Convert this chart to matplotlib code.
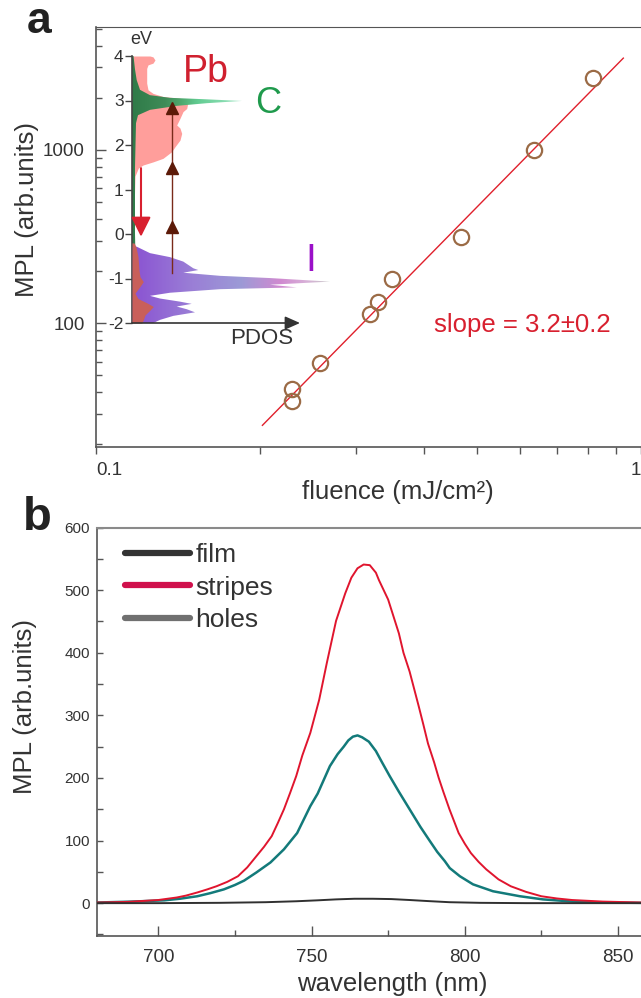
import numpy as np
import matplotlib
matplotlib.use("Agg")
import matplotlib.pyplot as plt
from matplotlib.colors import LinearSegmentedColormap
from matplotlib.patches import PathPatch
from matplotlib.lines import Line2D
from matplotlib.ticker import LogLocator, NullFormatter, MultipleLocator

plt.rcParams["font.family"] = ["Liberation Sans", "DejaVu Sans"]

W, H = 641, 998

# ---- panel a: MPL vs fluence ----
fluence = [0.815, 0.635, 0.467, 0.349, 0.329, 0.318, 0.258, 0.229, 0.229]
mpl_int = [2600, 1000, 315, 180, 133, 113, 59, 41.8, 35.6]
slope = 3.2
fit_amp = 4300
fit_range = [0.202, 0.928]

# ---- inset: projected DOS (energy in eV, PDOS in arb. units) ----
pb_e = [4.0, 3.98, 3.91, 3.84, 3.80, 3.72, 3.39, 3.24, 3.16, 3.09, 3.05, 2.97,
        2.82, 2.75, 2.60, 2.45, 2.38, 2.26, 2.11, 1.96, 1.85, 1.70, 1.62, 1.55,
        1.48, 1.30, 0.50, -0.20]
pb_w = [18, 21, 23, 21, 16, 14.7, 14.7, 16, 21, 31, 48, 56,
        54.7, 51, 48, 44.7, 48, 49.7, 48, 43, 39.7, 31, 21, 11,
        6.3, 3, 2, 2]
pb_low_e = [-0.20, -0.29, -0.51, -0.81, -0.96, -1.07, -1.18, -1.33, -1.45,
            -1.56, -1.63, -1.71, -1.82, -1.93, -2.0]
pb_low_w = [2, 4, 6, 7, 8, 11.3, 8, 3, 6, 16, 21.3, 18, 13, 11.3, 9.7]
c_e = [4.0, 3.7, 3.46, 3.24, 3.12, 3.06, 3.03, 2.99, 2.94, 2.88, 2.79, 2.67,
       2.49, 1.5, 0.0, -1.0, -1.07, -1.2, -1.6, -2.0]
c_w = [1.5, 3, 4.7, 8, 18, 38, 71, 110, 75, 45, 18, 6,
       4, 3, 3, 4, 5, 3, 2, 1]
i_e = [-0.285, -0.43, -0.52, -0.62, -0.77, -0.81, -0.87, -0.94, -0.99, -1.07,
       -1.14, -1.20, -1.24, -1.32, -1.39, -1.45, -1.52, -1.57, -1.63, -1.69,
       -1.76, -1.84, -1.93, -2.0]
i_w = [4.7, 18, 38, 51.3, 61.3, 66.3, 51.3, 88, 138, 198,
       138, 164.7, 88, 38, 18, 28, 48, 59.7, 44.7, 54.7,
       63, 41.3, 28, 21.3]
absorb_e = [0.16, 1.48, 2.84]
absorb_from = -0.87
emit_from, emit_to = 1.48, -0.06

# ---- panel b: MPL spectra ----
stripes_nm = [680, 690, 700, 706, 709, 712.7, 716, 719, 722.5, 726, 729, 732,
              734.5, 737, 739, 741, 743, 745, 747, 749.6, 752.5, 755, 758, 761,
              763, 765, 767, 769, 771, 772, 775, 778.5, 780, 782, 783.5, 785,
              786.5, 788, 790, 791.5, 793, 795, 798, 800, 802, 804.5, 807, 811,
              815, 820, 825, 830, 835, 845, 857.5]
stripes = [1, 2, 5, 9, 12, 17, 22, 27, 34, 43, 57, 75,
           90, 107, 128, 150, 176, 203, 236, 272, 325, 384, 451, 495,
           520, 535, 541, 540, 528, 516, 485, 431, 400, 370, 342, 314,
           285, 255, 225, 200, 178, 150, 112, 95, 80, 66, 54, 38,
           27, 18, 11, 7.5, 5, 2.5, 1]
holes_nm = [680, 691, 702, 707, 712.7, 717, 721.4, 725, 728, 732, 736.6, 741,
            745.3, 749.6, 752, 754, 756, 758.5, 760.5, 762, 763.5, 765, 766.5,
            768.7, 771, 773, 775.5, 778.5, 781, 783, 785.5, 788.5, 791, 793.5,
            795.1, 798.4, 802.7, 809.2, 818, 825.5, 835.3, 845, 857.5]
holes = [1, 2.4, 4.5, 7, 11, 16, 22, 29, 36, 49, 65, 86,
         112, 155, 175, 197, 219, 238, 250, 260, 266, 268, 265,
         258, 243, 225, 203, 178, 158, 142, 122, 100, 82, 67,
         56, 43, 30, 19, 11, 6, 2.5, 1, 0.5]
film_nm = [680, 700, 720, 735, 745, 752, 758, 764, 770, 776, 782, 788, 795,
           805, 820, 857.5]
film = [0, 0, 0.5, 1.5, 3, 4.5, 6, 7, 7, 6.5, 5, 3.3, 1.5, 0.5, 0, 0]
legend_labels = ["film", "stripes", "holes"]
legend_colors = ["#333333", "#d0104c", "#707070"]

TXT = "#333333"


def px_rect(x0, y0, x1, y1):
    return [x0 / W, 1 - y1 / H, (x1 - x0) / W, (y1 - y0) / H]


def shaded(ax, e, w, colors, z):
    e = np.asarray(e, float)
    w = np.asarray(w, float)
    poly = ax.fill_betweenx(e, 0, w, facecolor="none", edgecolor="none")
    patch = PathPatch(poly.get_paths()[0], transform=ax.transData,
                      facecolor="none", edgecolor="none")
    ax.add_patch(patch)
    cmap = LinearSegmentedColormap.from_list("pdos", colors)
    im = ax.imshow(np.linspace(0, 1, 256)[None, :], cmap=cmap, aspect="auto",
                   extent=[0, w.max(), e.min(), e.max()], origin="lower",
                   interpolation="bilinear", zorder=z)
    im.set_clip_path(patch)


fig = plt.figure(figsize=(W / 100, H / 100), dpi=100)

# ================= panel a =================
ax = fig.add_axes(px_rect(96, 26.7, 641, 447))
ax.set_xscale("log")
ax.set_yscale("log")
ax.plot(fluence, mpl_int, "o", ms=11, mfc="none", mec="#9b6b46", mew=1.6, zorder=3)
f = np.array(fit_range)
ax.plot(f, fit_amp * f ** slope, color="#e0202c", lw=1, zorder=2)
ax.set_xlim(0.1, 0.967)
ax.set_ylim(19.3, 5140)

ax.set_yticks([100, 1000], ["100", "1000"])
ax.yaxis.set_minor_locator(LogLocator(base=10, subs=np.arange(2, 10)))
ax.yaxis.set_minor_formatter(NullFormatter())
ax.set_xticks([0.1, 1], ["0.1", "1"])
ax.xaxis.set_minor_locator(LogLocator(base=10, subs=np.arange(2, 10)))
ax.xaxis.set_minor_formatter(NullFormatter())
xlabs = ax.get_xticklabels()
xlabs[0].set_horizontalalignment("left")
xlabs[1].set_horizontalalignment("right")
ax.tick_params(axis="y", which="major", direction="in", length=7, width=1,
               color="#555555", labelsize=13.5, labelcolor=TXT, pad=8)
ax.tick_params(axis="y", which="minor", direction="in", length=4, width=1,
               color="#555555")
ax.tick_params(axis="x", which="both", direction="out", length=5, width=1,
               color="#555555", labelsize=13.5, labelcolor=TXT, pad=6)
ax.spines["right"].set_visible(False)
ax.spines["top"].set_linestyle((0, (1, 1)))
ax.spines["top"].set_color("#555555")
for s in ["left", "bottom"]:
    ax.spines[s].set_color("#555555")
    ax.spines[s].set_linewidth(1.2)

ax.set_ylabel("MPL (arb.units)", fontsize=18.5, color=TXT)
ax.yaxis.set_label_coords(-0.105, 0.566)
ax.set_xlabel("fluence (mJ/cm²)", fontsize=18.5, color=TXT)
ax.xaxis.set_label_coords(0.553, -0.078)
ax.text(0.62, 0.29, f"slope = {slope:.1f}±0.2", transform=ax.transAxes,
        fontsize=18.5, color="#d8202f", ha="left", va="center")

# ---- inset PDOS ----
axi = fig.add_axes(px_rect(132, 56, 342, 323))
axi.patch.set_alpha(0)
axi.fill_betweenx(pb_e, 0, pb_w, color="#ff9e9b", lw=0, zorder=1)
shaded(axi, c_e, c_w, [(0, "#2f7a48"), (0.3, "#3f8c58"), (0.45, "#4fa86e"),
                       (0.6, "#62cc92"), (1, "#a0e6c4")], 2)
shaded(axi, i_e, i_w, [(0, "#8a52d2"), (0.3, "#9a7ed6"), (0.55, "#9c9ad6"),
                       (0.75, "#d08ad0"), (0.88, "#d8b0d8"), (1, "#c8c8c8")], 2)
axi.fill_betweenx(pb_low_e, 0, pb_low_w, color="#c95f5a", lw=0, zorder=3)

axi.plot([40.3, 40.3], [absorb_from, absorb_e[-1]], color="#7a2a1a", lw=1, zorder=4)
axi.plot([40.3] * len(absorb_e), absorb_e, "^", ms=8, color="#5c1a08", zorder=5)
axi.annotate("", xy=(9, emit_to), xytext=(9, emit_from),
             arrowprops=dict(arrowstyle="-|>,head_length=0.6,head_width=0.3",
                             mutation_scale=20, color="#d8202f", lw=1.5,
                             shrinkA=0, shrinkB=0), zorder=5)
axi.annotate("", xy=(168, -2), xytext=(0, -2),
             arrowprops=dict(arrowstyle="-|>,head_length=0.45,head_width=0.2",
                             mutation_scale=20, color="#333333", lw=1.2,
                             shrinkA=0, shrinkB=0), zorder=5)

axi.set_xlim(0, 210)
axi.set_ylim(-2, 4)
axi.set_xticks([])
axi.set_yticks(range(-2, 5), ["-2", "-1", "0", "1", "2", "3", "4"])
axi.tick_params(axis="y", direction="out", length=5, width=1, color="#444444",
                labelsize=12.5, labelcolor=TXT, pad=1)
for s in ["top", "right", "bottom"]:
    axi.spines[s].set_visible(False)
axi.spines["left"].set_color("#444444")
axi.spines["left"].set_linewidth(1.2)

axi.text(9.5, 4.36, "eV", fontsize=13, color=TXT, ha="center", va="center")
axi.text(129.5, -2.35, "PDOS", fontsize=16, color=TXT, ha="center", va="center")
axi.text(51, 3.42, "Pb", fontsize=27, color="#d0202f", ha="left", va="baseline")
axi.text(123, 2.72, "C", fontsize=26, color="#1f9a4c", ha="left", va="baseline")
axi.text(178.5, -0.83, "I", fontsize=28, color="#9a10c8", ha="center", va="baseline")

# ================= panel b =================
bx = fig.add_axes(px_rect(97, 527.6, 641, 936))
bx.plot(stripes_nm, stripes, color="#e0152e", lw=1.4, zorder=3)
bx.plot(holes_nm, holes, color="#137a7a", lw=1.8, zorder=2)
bx.plot(film_nm, film, color="#303030", lw=1.4, zorder=4)
bx.set_xlim(680, 857.5)
bx.set_ylim(-52.5, 600)
bx.xaxis.set_major_locator(MultipleLocator(50))
bx.xaxis.set_minor_locator(MultipleLocator(25))
bx.yaxis.set_major_locator(MultipleLocator(100))
bx.yaxis.set_minor_locator(MultipleLocator(50))
bx.set_yticks(range(0, 601, 100))
bx.tick_params(axis="x", which="major", direction="in", length=7, width=1,
               color="#555555", labelsize=13.5, labelcolor=TXT, pad=9)
bx.tick_params(axis="x", which="minor", direction="in", length=4, width=1,
               color="#555555")
bx.tick_params(axis="y", which="both", direction="in", length=4, width=1,
               color="#555555", labelsize=11, labelcolor=TXT, pad=5)
bx.spines["right"].set_visible(False)
bx.spines["top"].set_color("#8a8a8a")
bx.spines["top"].set_linewidth(1.5)
for s in ["left", "bottom"]:
    bx.spines[s].set_color("#555555")
    bx.spines[s].set_linewidth(1.2)

bx.set_ylabel("MPL (arb.units)", fontsize=18.5, color=TXT)
bx.yaxis.set_label_coords(-0.11, 0.563)
bx.set_xlabel("wavelength (nm)", fontsize=18.5, color=TXT)
bx.xaxis.set_label_coords(0.543, -0.088)

handles = [Line2D([0], [0], color=c, lw=4.5, solid_capstyle="round")
           for c in legend_colors]
bx.legend(handles, legend_labels, loc="upper left", bbox_to_anchor=(0.052, 0.962),
          frameon=False, fontsize=19, handlelength=2.45, handletextpad=0.2,
          labelspacing=0.32, borderaxespad=0, borderpad=0, labelcolor=TXT)

# panel letters
fig.text(27 / W, 1 - 33 / H, "a", fontsize=32, fontweight="bold", color="#222222",
         ha="left", va="baseline")
fig.text(23 / W, 1 - 530 / H, "b", fontsize=34, fontweight="bold", color="#222222",
         ha="left", va="baseline")

fig.savefig("out.png", dpi=100)
